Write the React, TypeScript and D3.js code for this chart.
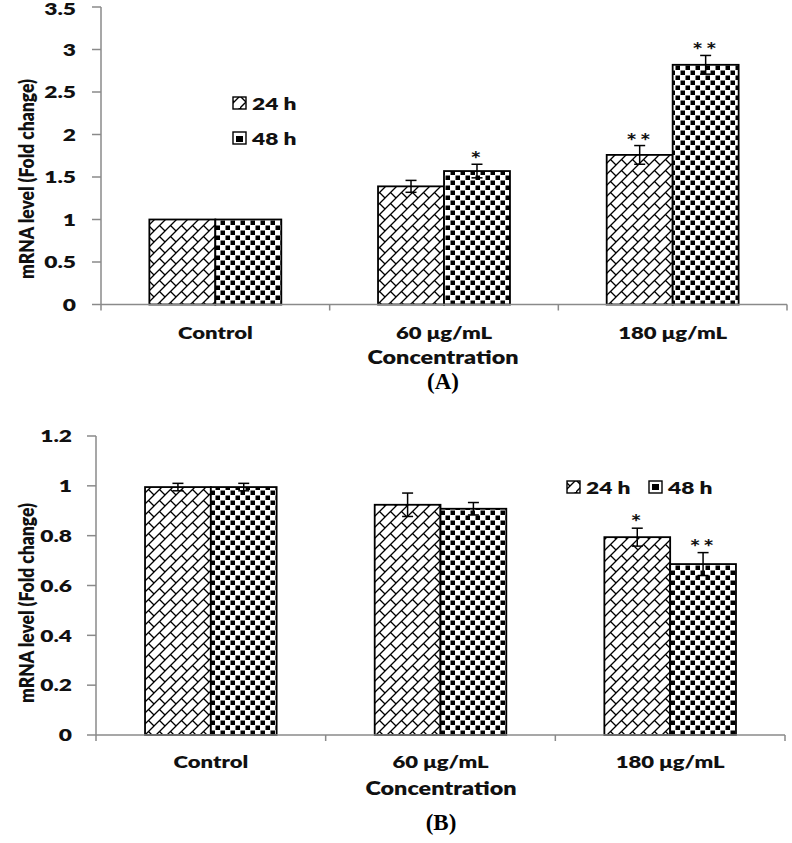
import React from 'react';
import * as d3 from 'd3';

const categories = ['Control', '60 μg/mL', '180 μg/mL'];
const seriesNames = ['24 h', '48 h'];

// Panel A
const aMean24 = [1.0, 1.39, 1.76];
const aErr24 = [0, 0.07, 0.11];
const aSig24 = ['', '', '**'];
const aMean48 = [1.0, 1.57, 2.82];
const aErr48 = [0, 0.08, 0.11];
const aSig48 = ['', '*', '**'];
const aTicks = [0, 0.5, 1, 1.5, 2, 2.5, 3, 3.5];

// Panel B
const bMean24 = [0.995, 0.924, 0.794];
const bErr24 = [0.015, 0.047, 0.036];
const bSig24 = ['', '', '*'];
const bMean48 = [0.995, 0.908, 0.686];
const bErr48 = [0.015, 0.025, 0.046];
const bSig48 = ['', '', '**'];
const bTicks = [0, 0.2, 0.4, 0.6, 0.8, 1, 1.2];

const yLabel = 'mRNA level (Fold change)';
const xTitle = 'Concentration';

const SX = 1.3;
const AXIS = '#8a8a8a';

function HText({ x, y, anchor = 'middle', size = 18, sx = SX, weight = 800, family = 'Lato', spacing = 0, children }: any) {
  return (
    <text
      transform={`translate(${x},${y}) scale(${sx},1)`}
      textAnchor={anchor}
      fontSize={size}
      fontWeight={weight}
      fontFamily={family}
      letterSpacing={spacing}
      fill="#111"
    >
      {children}
    </text>
  );
}

function Panel({ cfg, m24, e24, s24, m48, e48, s48, ticks, letter }: any) {
  const max = ticks[ticks.length - 1];
  const y = d3.scaleLinear().domain([0, max]).range([cfg.yBottom, cfg.yTop]);
  const x = d3
    .scaleBand()
    .domain(categories)
    .range([cfg.x0, cfg.x1])
    .paddingInner(cfg.pad)
    .paddingOuter(cfg.pad / 2);
  const xs = d3.scaleBand().domain(seriesNames).range([0, x.bandwidth()]);
  const series = [
    { name: seriesNames[0], m: m24, e: e24, s: s24, fill: 'url(#brick)', lfill: 'url(#brickS)' },
    { name: seriesNames[1], m: m48, e: e48, s: s48, fill: 'url(#checker)', lfill: 'url(#checkerS)' },
  ];
  const bounds = d3.range(categories.length + 1).map((i) => cfg.x0 + i * x.step());
  return (
    <g>
      {series.map((sr) =>
        categories.map((c, i) => {
          const bx = (x(c) as number) + (xs(sr.name) as number);
          const bw = xs.bandwidth();
          const v = sr.m[i];
          const er = sr.e[i];
          const cx = bx + bw / 2;
          const top = y(v + er);
          const bot = y(v - er);
          return (
            <g key={sr.name + c}>
              <rect x={bx} y={y(v)} width={bw} height={y(0) - y(v)} fill={sr.fill} stroke="#000" strokeWidth={1.8} />
              {er > 0 && (
                <g stroke="#000" strokeWidth={1.5}>
                  <line x1={cx} x2={cx} y1={top} y2={bot} />
                  <line x1={cx - 5.5} x2={cx + 5.5} y1={top} y2={top} />
                  <line x1={cx - 5.5} x2={cx + 5.5} y1={bot} y2={bot} />
                </g>
              )}
              {sr.s[i] && (
                <HText x={cx} y={top + cfg.starDy} size={21} sx={1.25} spacing={2} weight={700}>
                  {sr.s[i]}
                </HText>
              )}
            </g>
          );
        })
      )}
      <g stroke={AXIS} strokeWidth={1.5}>
        <line x1={cfg.x0} x2={cfg.x0} y1={y(max)} y2={y(0)} />
        <line x1={cfg.x0} x2={cfg.x1} y1={y(0)} y2={y(0)} />
        {ticks.map((t: number) => (
          <line key={t} x1={cfg.x0 - 9} x2={cfg.x0} y1={y(t)} y2={y(t)} />
        ))}
        {bounds.map((b: number) => (
          <line key={b} x1={b} x2={b} y1={y(0)} y2={y(0) + 6} />
        ))}
      </g>
      {ticks.map((t: number) => (
        <HText key={t} x={cfg.tickRight} y={Math.max(y(t) + 6.2, 15)} anchor="end" size={17.5}>
          {String(+t.toFixed(1))}
        </HText>
      ))}
      {categories.map((c) => (
        <HText key={c} x={(x(c) as number) + x.bandwidth() / 2} y={cfg.catY} size={17}>
          {c}
        </HText>
      ))}
      <HText x={cfg.titleX} y={cfg.titleY} size={18}>
        {xTitle}
      </HText>
      <text
        transform={`translate(${cfg.ylabX},${cfg.ylabY}) rotate(-90) scale(1,1.2)`}
        textAnchor="middle"
        fontSize={17.5}
        fontWeight={800}
        fontFamily="Lato"
        fill="#111"
      >
        {yLabel}
      </text>
      <text x={cfg.titleX} y={cfg.letterY} textAnchor="middle" fontSize={23} fontWeight={700} fontFamily="Liberation Serif" fill="#000">
        ({letter})
      </text>
      {series.map((sr, i) => {
        const lx = cfg.legend[i][0];
        const ly = cfg.legend[i][1];
        return (
          <g key={sr.name}>
            <rect x={lx} y={ly - 6} width={13} height={12} fill={sr.lfill} stroke="#000" strokeWidth={1.4} />
            <HText x={lx + 19} y={ly + 6.5} anchor="start" size={17.5}>
              {sr.name}
            </HText>
          </g>
        );
      })}
    </g>
  );
}

const cfgA = {
  x0: 101,
  x1: 787,
  yTop: 7,
  yBottom: 304.5,
  pad: 0.423,
  tickRight: 76,
  catY: 338.5,
  titleX: 443,
  titleY: 364,
  letterY: 389,
  ylabX: 34,
  ylabY: 179,
  starDy: 3,
  legend: [
    [233, 103],
    [233, 138],
  ],
};

const cfgB = {
  x0: 96,
  x1: 785,
  yTop: 436,
  yBottom: 735,
  pad: 0.427,
  tickRight: 72,
  catY: 768,
  titleX: 441,
  titleY: 795,
  letterY: 830,
  ylabX: 34,
  ylabY: 603,
  starDy: 2,
  legend: [
    [567, 487],
    [649, 487],
  ],
};

export default function App() {
  return (
    <svg width={792} height={843} style={{ position: 'absolute', left: 0, top: 0, background: '#fff' }}>
      <defs>
        <pattern id="brick" patternUnits="userSpaceOnUse" width={11} height={11}>
          <rect width={11} height={11} fill="#fff" />
          <path d="M0,11 L11,0 M-1,1 L1,-1 M10,12 L12,10 M5.5,5.5 L11,11" stroke="#000" strokeWidth={1.3} />
        </pattern>
        <pattern id="checker" patternUnits="userSpaceOnUse" width={10} height={10}>
          <rect width={10} height={10} fill="#fff" />
          <rect x={0.5} y={0.5} width={4.5} height={4.5} fill="#000" />
          <rect x={5.5} y={5.5} width={4.5} height={4.5} fill="#000" />
        </pattern>
        <pattern id="brickS" patternUnits="userSpaceOnUse" width={12} height={12}>
          <rect width={12} height={12} fill="#fff" />
          <path d="M0,12 L12,0 M0,0 L6,6" stroke="#000" strokeWidth={1.4} />
        </pattern>
        <pattern id="checkerS" patternUnits="userSpaceOnUse" width={13} height={12} x={649} y={481}>
          <rect width={13} height={12} fill="#fff" />
          <rect x={3} y={3} width={7} height={6} fill="#000" />
        </pattern>
      </defs>
      <rect width={792} height={843} fill="#fff" />
      <Panel cfg={cfgA} m24={aMean24} e24={aErr24} s24={aSig24} m48={aMean48} e48={aErr48} s48={aSig48} ticks={aTicks} letter="A" />
      <Panel cfg={cfgB} m24={bMean24} e24={bErr24} s24={bSig24} m48={bMean48} e48={bErr48} s48={bSig48} ticks={bTicks} letter="B" />
    </svg>
  );
}
